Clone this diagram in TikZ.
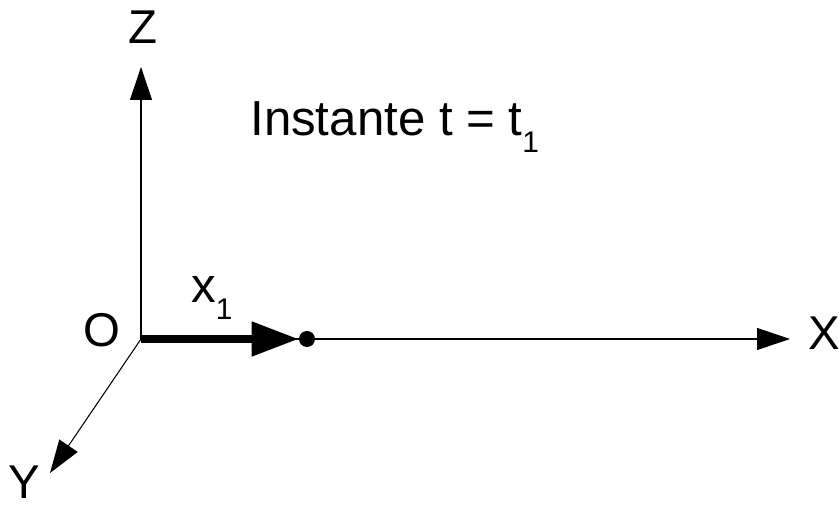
\documentclass[tikz,border=0pt]{standalone}
\usepackage{fontspec}
\setmainfont{Liberation Sans}
\usetikzlibrary{positioning, arrows.meta}
\newcommand{\subone}{\raisebox{-9.5pt}{\fontsize{17}{19}\selectfont 1}}

\begin{document}
\begin{tikzpicture}[
    x=0.02cm, y=-0.02cm,
    axis/.style={line width=0.6pt, black,
      -{Triangle[length=0.66cm, width=0.44cm]}},
    posarrow/.style={line width=0.16cm, black,
      -{Triangle[length=0.94cm, width=0.66cm]}},
    axlabel/.style={inner sep=0pt, font=\fontsize{27}{31}\selectfont},
    title/.style={inner sep=0pt, font=\fontsize{28}{32}\selectfont},
    dot/.style={circle, fill=black, inner sep=0pt, minimum size=0.32cm},
]
    \useasboundingbox (0,0) rectangle (839,509);

    % Origin and axis ends
    \coordinate (o) at (141,339);
    \coordinate (ztip) at (141,67);
    \coordinate (xtip) at (790,339);
    \coordinate (ytip) at (50,473);

    % Axes
    \draw[axis] (o) -- (ztip);
    \draw[axis] (o) -- (xtip);
    \draw[axis] (o) -- (ytip);

    % Axis labels
    \node[axlabel] (zlab) at (143,27) {Z};
    \node[axlabel] (xlab) at (824,333) {X};
    \node[axlabel] (ylab) at (24,482) {Y};
    \node[axlabel] (olab) at (102,330) {O};

    % Position at t1
    \node[dot] (p1) at (307,339) {};
    \draw[posarrow] (o) -- (p1.west);
    \node[title, anchor=base west] (x1lab) at (191,303) {x\subone};

    % Title
    \node[title, anchor=base west] (titletext) at (250,136)
      {Instante t = t\subone};
\end{tikzpicture}
\end{document}
